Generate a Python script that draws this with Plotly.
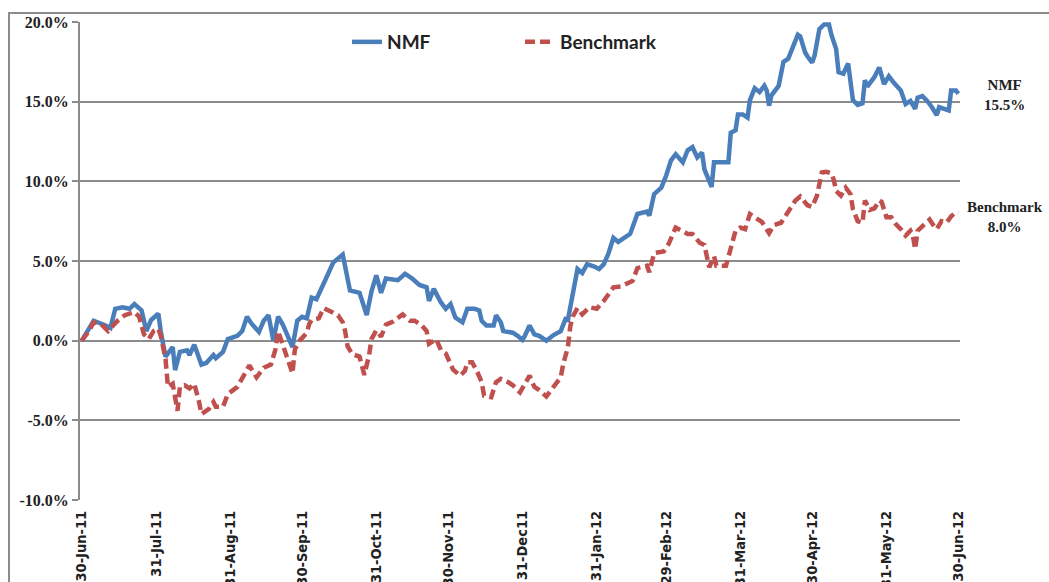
import plotly.graph_objects as go

# ---------------- data ----------------
nmf_dates = [
    "2011-06-30", "2011-07-05", "2011-07-10", "2011-07-12", "2011-07-14", "2011-07-17", "2011-07-20",
    "2011-07-22", "2011-07-25", "2011-07-27", "2011-07-29", "2011-08-01", "2011-08-02", "2011-08-04",
    "2011-08-07", "2011-08-08", "2011-08-10", "2011-08-13", "2011-08-14", "2011-08-16", "2011-08-19",
    "2011-08-21", "2011-08-24", "2011-08-25", "2011-08-28", "2011-08-30", "2011-09-03", "2011-09-05",
    "2011-09-07", "2011-09-09", "2011-09-12", "2011-09-14", "2011-09-16", "2011-09-18", "2011-09-20",
    "2011-09-22", "2011-09-26", "2011-09-28", "2011-09-30", "2011-10-02", "2011-10-04", "2011-10-06",
    "2011-10-10", "2011-10-13", "2011-10-17", "2011-10-19", "2011-10-20", "2011-10-24", "2011-10-27",
    "2011-10-29", "2011-10-31", "2011-11-02", "2011-11-04", "2011-11-09", "2011-11-12", "2011-11-15",
    "2011-11-18", "2011-11-21", "2011-11-22", "2011-11-24", "2011-11-27", "2011-11-29", "2011-12-01",
    "2011-12-03", "2011-12-06", "2011-12-08", "2011-12-11", "2011-12-13", "2011-12-14", "2011-12-16",
    "2011-12-19", "2011-12-20", "2011-12-22", "2011-12-23", "2011-12-27", "2011-12-29", "2011-12-31",
    "2012-01-01", "2012-01-03", "2012-01-05", "2012-01-07", "2012-01-10", "2012-01-13", "2012-01-16",
    "2012-01-18", "2012-01-19", "2012-01-21", "2012-01-23", "2012-01-25", "2012-01-27", "2012-01-30",
    "2012-02-01", "2012-02-03", "2012-02-05", "2012-02-07", "2012-02-09", "2012-02-14", "2012-02-17",
    "2012-02-21", "2012-02-22", "2012-02-24", "2012-02-27", "2012-02-29", "2012-03-02", "2012-03-04",
    "2012-03-07", "2012-03-09", "2012-03-11", "2012-03-13", "2012-03-15", "2012-03-16", "2012-03-19",
    "2012-03-20", "2012-03-26", "2012-03-27", "2012-03-29", "2012-03-30", "2012-04-01", "2012-04-03",
    "2012-04-04", "2012-04-06", "2012-04-08", "2012-04-10", "2012-04-11", "2012-04-12", "2012-04-13",
    "2012-04-16", "2012-04-18", "2012-04-20", "2012-04-22", "2012-04-24", "2012-04-25", "2012-04-27",
    "2012-04-28", "2012-04-30", "2012-05-01", "2012-05-03", "2012-05-05", "2012-05-07", "2012-05-08",
    "2012-05-10", "2012-05-11", "2012-05-13", "2012-05-15", "2012-05-16", "2012-05-17", "2012-05-19",
    "2012-05-21", "2012-05-22", "2012-05-23", "2012-05-26", "2012-05-28", "2012-05-30", "2012-06-01",
    "2012-06-03", "2012-06-06", "2012-06-08", "2012-06-10", "2012-06-12", "2012-06-13", "2012-06-15",
    "2012-06-17", "2012-06-19", "2012-06-21", "2012-06-22", "2012-06-25", "2012-06-26", "2012-06-27",
    "2012-06-29", "2012-06-30",
]
nmf_values = [
    0.0, 1.25, 0.95, 0.8, 2.0, 2.1, 2.0,
    2.3, 1.9, 0.6, 1.3, 1.7, 0.6, -1.0,
    -0.4, -1.85, -0.7, -0.6, -0.9, -0.25, -1.5,
    -1.4, -0.9, -1.1, -0.7, 0.1, 0.3, 0.6,
    1.5, 1.05, 0.55, 1.25, 1.6, 0.0, 1.5,
    1.0, -0.4, 1.25, 1.5, 1.4, 2.7, 2.6,
    3.9, 4.9, 5.4, 4.1, 3.15, 3.0, 1.6,
    3.1, 4.1, 3.0, 3.9, 3.8, 4.2, 3.9,
    3.5, 3.35, 2.5, 3.25, 2.4, 2.0, 2.3,
    1.45, 1.15, 2.0, 2.0, 1.9, 1.25, 0.95,
    0.95, 1.6, 1.15, 0.6, 0.5, 0.3, 0.05,
    0.3, 0.95, 0.4, 0.3, 0.0, 0.35, 0.6,
    1.35, 1.3, 3.0, 4.5, 4.25, 4.8, 4.65,
    4.5, 4.8, 5.5, 6.45, 6.2, 6.7, 7.95,
    8.1, 7.85, 9.2, 9.6, 10.35, 11.3, 11.7,
    11.2, 11.95, 12.15, 11.5, 11.8, 10.75, 9.65,
    11.2, 11.2, 13.05, 13.2, 14.2, 14.2, 14.0,
    15.1, 15.85, 15.6, 16.0, 15.7, 14.75, 15.4,
    16.0, 17.5, 17.7, 18.5, 19.2, 19.1, 18.1,
    17.85, 17.45, 17.9, 19.55, 19.85, 19.85, 19.2,
    18.3, 16.85, 16.75, 17.4, 16.35, 15.1, 14.8,
    14.9, 16.35, 15.95, 16.55, 17.15, 16.1, 16.6,
    16.2, 15.7, 14.85, 15.05, 14.55, 15.25, 15.35,
    15.05, 14.65, 14.15, 14.65, 14.45, 14.45, 15.7,
    15.7, 15.5,
]

bm_dates = [
    "2011-06-30", "2011-07-03", "2011-07-05", "2011-07-08", "2011-07-11", "2011-07-15", "2011-07-18",
    "2011-07-22", "2011-07-24", "2011-07-26", "2011-07-28", "2011-07-30", "2011-08-01", "2011-08-02",
    "2011-08-04", "2011-08-05", "2011-08-07", "2011-08-08", "2011-08-09", "2011-08-10", "2011-08-12",
    "2011-08-14", "2011-08-16", "2011-08-18", "2011-08-19", "2011-08-22", "2011-08-24", "2011-08-25",
    "2011-08-28", "2011-08-30", "2011-09-03", "2011-09-06", "2011-09-08", "2011-09-11", "2011-09-14",
    "2011-09-17", "2011-09-19", "2011-09-20", "2011-09-22", "2011-09-24", "2011-09-26", "2011-09-27",
    "2011-09-29", "2011-10-02", "2011-10-03", "2011-10-04", "2011-10-07", "2011-10-09", "2011-10-12",
    "2011-10-15", "2011-10-17", "2011-10-18", "2011-10-19", "2011-10-21", "2011-10-24", "2011-10-26",
    "2011-10-28", "2011-10-29", "2011-10-31", "2011-11-02", "2011-11-04", "2011-11-07", "2011-11-11",
    "2011-11-14", "2011-11-16", "2011-11-19", "2011-11-21", "2011-11-22", "2011-11-25", "2011-11-27",
    "2011-11-29", "2011-12-02", "2011-12-05", "2011-12-07", "2011-12-08", "2011-12-10", "2011-12-12",
    "2011-12-14", "2011-12-15", "2011-12-18", "2011-12-20", "2011-12-22", "2011-12-25", "2011-12-27",
    "2011-12-30", "2012-01-02", "2012-01-03", "2012-01-05", "2012-01-07", "2012-01-10", "2012-01-13",
    "2012-01-16", "2012-01-17", "2012-01-18", "2012-01-19", "2012-01-20", "2012-01-21", "2012-01-23",
    "2012-01-25", "2012-01-28", "2012-01-31", "2012-02-03", "2012-02-07", "2012-02-10", "2012-02-15",
    "2012-02-17", "2012-02-21", "2012-02-22", "2012-02-24", "2012-02-28", "2012-03-01", "2012-03-04",
    "2012-03-09", "2012-03-11", "2012-03-14", "2012-03-16", "2012-03-17", "2012-03-18", "2012-03-20",
    "2012-03-21", "2012-03-25", "2012-03-27", "2012-03-29", "2012-03-31", "2012-04-02", "2012-04-04",
    "2012-04-07", "2012-04-09", "2012-04-12", "2012-04-14", "2012-04-17", "2012-04-20", "2012-04-23",
    "2012-04-25", "2012-04-27", "2012-04-28", "2012-04-30", "2012-05-02", "2012-05-04", "2012-05-06",
    "2012-05-08", "2012-05-09", "2012-05-10", "2012-05-12", "2012-05-14", "2012-05-16", "2012-05-17",
    "2012-05-19", "2012-05-21", "2012-05-22", "2012-05-24", "2012-05-26", "2012-05-28", "2012-05-29",
    "2012-05-31", "2012-06-02", "2012-06-04", "2012-06-06", "2012-06-08", "2012-06-10", "2012-06-11",
    "2012-06-12", "2012-06-13", "2012-06-15", "2012-06-18", "2012-06-20", "2012-06-21", "2012-06-23",
    "2012-06-25", "2012-06-27", "2012-06-29", "2012-06-30",
]
bm_values = [
    0.0, 0.6, 1.15, 1.05, 0.6, 1.25, 1.6,
    1.8, 1.5, 0.4, 0.1, 0.6, 0.75, 0.3,
    -1.15, -2.9, -2.7, -3.55, -4.4, -2.9, -2.8,
    -3.0, -2.7, -3.85, -4.6, -4.3, -3.85, -4.15,
    -4.15, -3.35, -2.9, -2.1, -1.55, -2.3, -1.7,
    -1.5, -0.5, 0.6, -0.3, -1.15, -2.05, -0.55,
    0.0, 0.5, 1.05, 1.3, 1.4, 2.05, 1.85,
    1.6, 1.15, 0.6, -0.35, -0.85, -1.0, -2.15,
    -0.9, 0.1, 0.65, 0.25, 1.0, 1.2, 1.65,
    1.25, 1.25, 0.95, 0.6, -0.2, 0.1, -0.6,
    -0.8, -1.8, -2.2, -1.9, -1.35, -1.35, -1.9,
    -2.6, -3.45, -3.55, -2.6, -2.4, -2.6, -2.8,
    -3.25, -2.5, -2.2, -2.9, -3.1, -3.5, -2.9,
    -2.3, -1.5, -0.85, -0.4, 0.9, 1.5, 2.05,
    1.65, 2.1, 2.0, 2.5, 3.35, 3.4, 3.75,
    4.55, 4.7, 4.3, 5.5, 5.6, 6.05, 7.1,
    6.7, 6.7, 6.15, 6.0, 5.1, 4.6, 5.3,
    4.7, 4.7, 5.75, 6.9, 7.1, 7.0, 7.95,
    7.65, 7.45, 6.75, 7.25, 7.4, 8.05, 8.8,
    9.05, 8.7, 8.5, 8.4, 9.1, 10.55, 10.6,
    10.5, 10.1, 9.4, 9.1, 9.6, 9.2, 8.25,
    7.5, 7.4, 8.8, 8.2, 8.3, 8.8, 8.7,
    7.75, 7.75, 7.3, 7.0, 6.6, 6.9, 6.6,
    5.75, 6.9, 7.15, 7.6, 7.15, 7.0, 7.5,
    7.4, 7.8, 8.05, 8.0,
]

tick_dates = [
    "2011-06-30", "2011-07-31", "2011-08-31", "2011-09-30", "2011-10-31", "2011-11-30",
    "2011-12-31", "2012-01-31", "2012-02-29", "2012-03-31", "2012-04-30", "2012-05-31", "2012-06-30",
]
tick_labels = [
    "30-Jun-11", "31-Jul-11", "31-Aug-11", "30-Sep-11", "31-Oct-11", "30-Nov-11",
    "31-Dec11", "31-Jan-12", "29-Feb-12", "31-Mar-12", "30-Apr-12", "31-May-12", "30-Jun-12",
]
y_ticks = [-10, -5, 0, 5, 10, 15, 20]
y_tick_labels = ["-10.0%", "-5.0%", "0.0%", "5.0%", "10.0%", "15.0%", "20.0%"]

series_names = ["NMF", "Benchmark"]

# ---------------- styling ----------------
GRID = "#8c8c8c"
BLUE = "#4a7ebb"
RED = "#c0504d"
TXT = "#222222"
SANS = "Lato, 'Open Sans', sans-serif"
SERIF = "'Liberation Serif', 'DejaVu Serif', serif"
NARROW = "'Liberation Sans Narrow', 'DejaVu Sans Condensed', 'Open Sans', sans-serif"

W, H = 1049, 582
L, R, T, B = 80, 89, 22, 82
PW, PH = W - L - R, H - T - B

fig = go.Figure()
fig.add_trace(go.Scatter(
    x=nmf_dates, y=nmf_values, mode="lines", name=series_names[0],
    line=dict(color=BLUE, width=4.5),
))
fig.add_trace(go.Scatter(
    x=bm_dates, y=bm_values, mode="lines", name=series_names[1],
    line=dict(color=RED, width=4.5, dash="10px,5px"),
))

x_range = ["2011-06-29 07:00", "2012-06-30 17:00"]

fig.update_layout(
    width=W, height=H,
    margin=dict(l=L, r=R, t=T, b=B, autoexpand=False),
    paper_bgcolor="white", plot_bgcolor="white",
    showlegend=True,
    legend=dict(
        orientation="h", x=(347 - L) / PW, xanchor="left",
        y=(H - B - 42) / PH, yanchor="middle",
        bgcolor="rgba(0,0,0,0)", entrywidth=128, entrywidthmode="pixels",
        font=dict(family=SANS, size=19, color=TXT, weight="bold"),
        itemclick=False,
    ),
    xaxis=dict(
        type="date", range=x_range,
        tickvals=tick_dates, ticktext=tick_labels, tickangle=-90,
        ticks="", showgrid=False, showline=False, zeroline=False,
        ticklabelstandoff=7,
        tickfont=dict(family=NARROW, size=14.5, color=TXT, weight="bold"),
    ),
    xaxis2=dict(
        type="date", range=x_range, overlaying="x", anchor="free",
        position=(0 - y_ticks[0]) / (y_ticks[-1] - y_ticks[0]),
        tickvals=tick_dates, showticklabels=False,
        ticks="outside", ticklen=5, tickwidth=3, tickcolor=GRID,
        showgrid=False, showline=False, zeroline=False,
    ),
    yaxis=dict(
        range=[y_ticks[0], y_ticks[-1]], tickvals=y_ticks, ticktext=y_tick_labels,
        showgrid=True, gridcolor=GRID, gridwidth=2,
        showline=True, linecolor=GRID, linewidth=2,
        ticks="outside", ticklen=6, tickwidth=2, tickcolor=GRID,
        zeroline=False,
        tickfont=dict(family=SERIF, size=16, color=TXT, weight="bold"),
    ),
)

# outer frame of the chart (partly outside the picture)
fig.add_shape(
    type="rect", xref="paper", yref="paper",
    x0=(9 - L) / PW, x1=(1070 - L) / PW,
    y0=(H - B - 620) / PH, y1=(H - B - 13) / PH,
    line=dict(color=GRID, width=2), fillcolor="rgba(0,0,0,0)", layer="above",
)

# end-of-line labels
for name, vals, ypix in [(series_names[0], nmf_values, 95), (series_names[1], bm_values, 217)]:
    fig.add_annotation(
        xref="paper", yref="paper", x=(1005 - L) / PW, y=(H - B - ypix) / PH,
        xanchor="center", yanchor="middle",
        text=f"{name}<br>{vals[-1]:.1f}%", showarrow=False,
        font=dict(family=SERIF, size=15, color=TXT, weight="bold"), align="center",
    )

fig.write_html(
    "out.html",
    config={"displayModeBar": False},
    post_script="document.body.style.margin='0';document.body.style.overflow='hidden';",
)
